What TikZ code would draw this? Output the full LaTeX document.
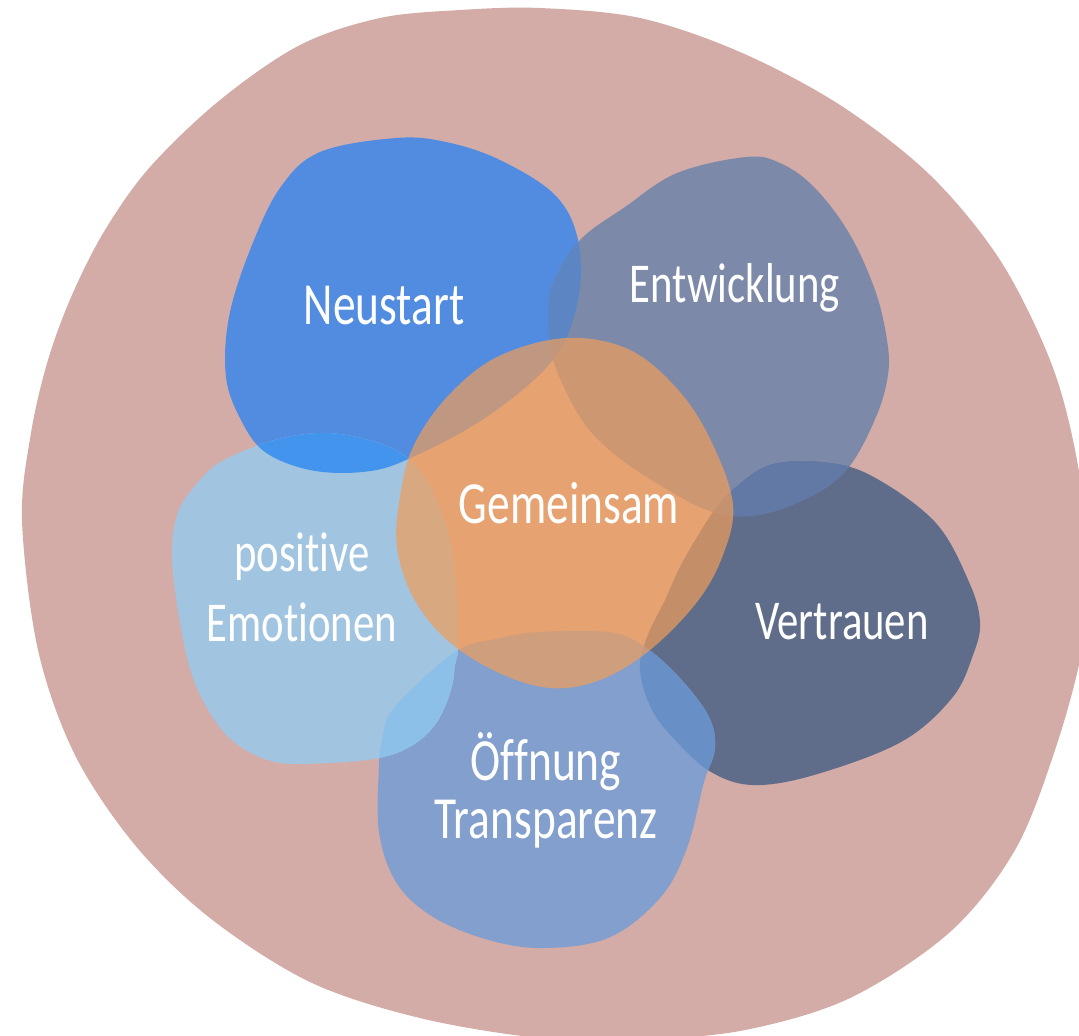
\documentclass[tikz,border=0pt]{standalone}
\usepackage{fontspec}
\setmainfont{Carlito}[FakeStretch=0.76, Ligatures={NoCommon}]
\definecolor{pinkbg}{HTML}{D3ACA8}
\definecolor{cNeu}{HTML}{528CE0}
\definecolor{cEnt}{HTML}{7D89A9}
\definecolor{cVer}{HTML}{5F6D8A}
\definecolor{cOef}{HTML}{829FCD}
\definecolor{cPos}{HTML}{A1C4E0}
\definecolor{ovNP}{HTML}{4394EC}
\definecolor{ovNE}{HTML}{5C85C4}
\definecolor{ovEV}{HTML}{6279A6}
\definecolor{ovVO}{HTML}{6890C6}
\definecolor{ovOP}{HTML}{8CC0E8}
\definecolor{cGem}{HTML}{F09E5A}
\def\pOuter{plot[smooth cycle,tension=0.55] coordinates {(22,520) (31,433) (48,360) (72,295) (105,230) (150,167) (220,100) (300,45) (380,18) (460,10) (540,8) (640,18) (740,52) (840,105) (930,175) (1000,260) (1050,360) (1075,450) (1090,560) (1082,650) (1055,750) (1015,850) (950,932) (850,998) (745,1030) (640,1040) (540,1038) (420,1018) (310,982) (210,918) (135,845) (75,755) (38,650)}}
\def\pNeu{plot[smooth cycle,tension=0.6] coordinates {(396,138) (320,152) (280,188) (250,250) (229,317) (226,377) (241,420) (265,452) (310,470) (362,472) (406,460) (485,418) (553,360) (578,300) (578,240) (555,195) (500,160) (446,142)}}
\def\pEnt{plot[smooth cycle,tension=0.6] coordinates {(746,157) (780,163) (814,187) (849,233) (875,290) (887,340) (888,375) (876,417) (849,467) (814,495) (760,515) (713,512) (663,487) (613,453) (580,417) (553,360) (548,317) (553,283) (580,240) (625,207) (677,173)}}
\def\pVer{plot[smooth cycle,tension=0.6] coordinates {(713,512) (735,488) (770,465) (820,462) (870,475) (935,522) (969,582) (980,622) (973,655) (952,698) (901,742) (814,775) (753,785) (711,772) (677,742) (652,710) (640,670) (647,637) (665,600) (682,563)}}
\def\pOef{plot[smooth cycle,tension=0.6] coordinates {(540,632) (608,632) (642,645) (677,675) (708,715) (715,748) (704,782) (687,848) (660,898) (608,938) (540,948) (482,938) (430,915) (396,882) (379,832) (379,765) (382,740) (389,715) (413,688) (458,650) (500,638)}}
\def\pPos{plot[smooth cycle,tension=0.6] coordinates {(224,460) (275,440) (327,433) (379,443) (410,460) (432,490) (450,540) (457,600) (458,648) (455,665) (451,690) (437,722) (413,745) (379,758) (327,763) (275,762) (234,742) (207,708) (189,665) (176,598) (172,548) (179,510) (200,480)}}
\def\pGem{plot[smooth cycle,tension=0.6] coordinates {(566,338) (630,350) (680,392) (713,445) (733,505) (723,555) (697,602) (650,650) (600,680) (550,688) (497,672) (447,640) (413,597) (397,547) (400,497) (413,447) (447,397) (497,357)}}
\tikzset{lbl/.style={text=white, inner sep=0pt, anchor=base, align=center, font=\fontsize{16}{19}\selectfont}}
\begin{document}
\begin{tikzpicture}[x=0.01cm,y=-0.01cm]
\useasboundingbox (0,0) rectangle (1079,1035);
\fill[white] (0,0) rectangle (1079,1035);
\clip (0,0) rectangle (1079,1035);
\fill[pinkbg] \pOuter;
\fill[cNeu] \pNeu;
\fill[cEnt] \pEnt;
\fill[cVer] \pVer;
\fill[cOef] \pOef;
\fill[cPos] \pPos;
\begin{scope}\clip \pNeu; \fill[ovNP] \pPos; \end{scope}
\begin{scope}\clip \pNeu; \fill[ovNE] \pEnt; \end{scope}
\begin{scope}\clip \pEnt; \fill[ovEV] \pVer; \end{scope}
\begin{scope}\clip \pVer; \fill[ovVO] \pOef; \end{scope}
\begin{scope}\clip \pOef; \fill[ovOP] \pPos; \end{scope}
\fill[cGem, fill opacity=0.7] \pGem;
\node[lbl, font=\fontsize{17}{20}\selectfont] (neustart) at (384,324) {Neustart};
\node[lbl] (entw) at (735,302) {Entwicklung};
\node[lbl, font=\fontsize{17}{20}\selectfont] (gem) at (569,523) {Gemeinsam};
\node[lbl] (vertr) at (842,639) {Vertrauen};
\node[lbl, font=\fontsize{16}{19.9}\selectfont] (posem) at (302,641) {positive\\Emotionen};
\node[lbl, font=\fontsize{17}{16.5}\selectfont] (oeff) at (546,838) {Öffnung\\Transparenz};
\end{tikzpicture}
\end{document}
